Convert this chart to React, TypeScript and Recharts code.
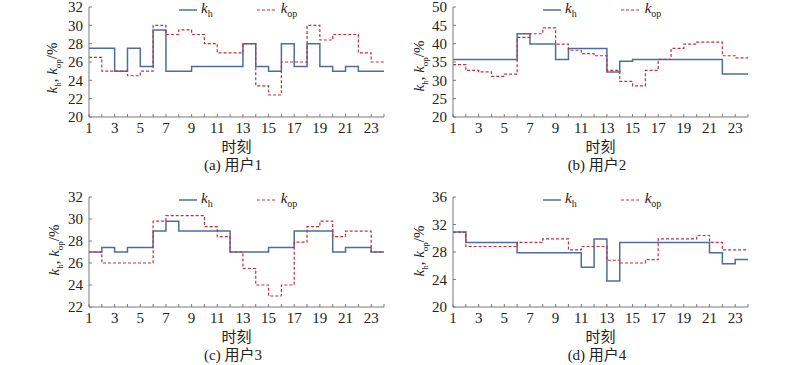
import React from 'react';
import { LineChart, Line, XAxis, YAxis, Legend } from 'recharts';

const hours = [1, 2, 3, 4, 5, 6, 7, 8, 9, 10, 11, 12, 13, 14, 15, 16, 17, 18, 19, 20, 21, 22, 23, 24];

// 用户1
const kh1 = [27.5, 27.5, 25, 27.5, 25.5, 29.5, 25, 25, 25.5, 25.5, 25.5, 25.5, 28, 25.5, 25, 28, 25.5, 28, 25.5, 25, 25.5, 25, 25, 25];
const kop1 = [26.5, 25, 25, 24.5, 25, 30, 29, 29.5, 29, 28, 27, 27, 28, 23.4, 22.4, 26, 26, 30, 28.4, 29, 29, 27, 26, 26];
const ticks1 = [20, 22, 24, 26, 28, 30, 32];

// 用户2
const kh2 = [35.7, 35.7, 35.7, 35.7, 35.7, 42.7, 39.9, 39.9, 35.7, 38.7, 38.7, 38.7, 32.3, 35.2, 35.7, 35.7, 35.7, 35.7, 35.7, 35.7, 35.7, 31.7, 31.7, 31.7];
const kop2 = [34.3, 32.7, 32.3, 31.1, 31.7, 41.7, 42.7, 44.3, 39.9, 38.2, 37.3, 36.7, 32.7, 29.7, 28.5, 32.7, 35.7, 38.7, 39.9, 40.4, 40.4, 36.7, 36.1, 36.1];
const ticks2 = [20, 25, 30, 35, 40, 45, 50];

// 用户3
const kh3 = [27, 27.4, 27, 27.4, 27.4, 28.9, 29.8, 28.9, 28.9, 28.9, 28.9, 27, 27, 27, 27.4, 27.4, 28.9, 28.9, 28.9, 27, 27.4, 27.4, 27, 27];
const kop3 = [27, 26, 26, 26, 26, 29.8, 30.3, 30.3, 30.3, 29.3, 28.4, 27, 25.5, 24, 23, 24, 27.9, 29.3, 29.8, 28.4, 28.9, 28.9, 27, 27];
const ticks3 = [22, 24, 26, 28, 30, 32];

// 用户4
const kh4 = [30.9, 29.4, 29.4, 29.4, 29.4, 27.9, 27.9, 27.9, 27.9, 27.9, 25.8, 29.9, 23.8, 29.4, 29.4, 29.4, 29.4, 29.4, 29.4, 29.4, 27.9, 26.3, 26.9, 26.9];
const kop4 = [30.9, 28.8, 28.8, 28.8, 28.8, 29.4, 29.4, 29.9, 29.9, 28.3, 28.8, 28.8, 26.8, 26.4, 26.4, 26.9, 29.9, 29.9, 29.9, 30.4, 29.4, 28.3, 28.3, 28.3];
const ticks4 = [20, 24, 28, 32, 36];

const SERIF = '"Liberation Serif", "Times New Roman", serif';
const CJK = '"Liberation Serif", "Noto Sans CJK SC", serif';
const BLUE = '#4f6c9f';
const RED = '#c4303a';
const AXIS = '#7a7a7a';
const INK = '#222';

const buildRows = (kh: number[], kop: number[]) =>
  hours.map((h, i) => ({ hour: h, kh: kh[i], kop: kop[i] }));

const LegendBox = () => (
  <div style={{ display: 'flex', alignItems: 'center', fontFamily: SERIF, fontSize: 15, color: INK }}>
    <svg width={20} height={6}><line x1={0} y1={3} x2={18} y2={3} stroke={BLUE} strokeWidth={1.5} /></svg>
    <span style={{ marginLeft: 2 }}><i>k</i><sub style={{ fontSize: 10 }}>h</sub></span>
    <svg width={22} height={6} style={{ marginLeft: 44 }}><line x1={0} y1={3} x2={20} y2={3} stroke={RED} strokeWidth={1.2} strokeDasharray="3 2" /></svg>
    <span style={{ marginLeft: 2 }}><i>k</i><sub style={{ fontSize: 10 }}>op</sub></span>
  </div>
);

interface PanelProps {
  left: number;
  top: number;
  kh: number[];
  kop: number[];
  yTicks: number[];
  caption: string;
  labelX: number;
  labelY: number;
}

const Panel: React.FC<PanelProps> = ({ left, top, kh, kop, yTicks, caption, labelX, labelY }) => {
  const data = buildRows(kh, kop);
  return (
    <>
      <div style={{ position: 'absolute', left, top }}>
        <LineChart width={400} height={140} data={data} margin={{ top: 7, right: 16, left: 0, bottom: 0 }}>
          <XAxis
            dataKey="hour"
            type="number"
            domain={[1, 24]}
            ticks={hours}
            interval={0}
            tickFormatter={(v: number) => (v % 2 === 1 ? String(v) : '')}
            height={23}
            stroke={AXIS}
            tickSize={-3}
            tickMargin={8}
            tick={{ fontFamily: SERIF, fontSize: 15, fill: INK }}
          />
          <YAxis
            domain={[yTicks[0], yTicks[yTicks.length - 1]]}
            ticks={yTicks}
            interval={0}
            width={89}
            stroke={AXIS}
            tickSize={-3}
            tickMargin={9}
            tick={{ fontFamily: SERIF, fontSize: 15, fill: INK }}
          />
          <Legend
            layout="horizontal"
            verticalAlign="middle"
            align="center"
            content={() => <LegendBox />}
            wrapperStyle={{ top: 0, left: 179, width: 'auto', height: 14 }}
          />
          <Line type="stepAfter" dataKey="kh" stroke={BLUE} strokeWidth={1.5} dot={false} isAnimationActive={false} />
          <Line type="stepAfter" dataKey="kop" stroke={RED} strokeWidth={1.2} strokeDasharray="3 2" dot={false} isAnimationActive={false} />
        </LineChart>
      </div>
      <div
        style={{
          position: 'absolute',
          left: labelX,
          top: labelY,
          transform: 'translate(-50%, -50%) rotate(-90deg)',
          whiteSpace: 'nowrap',
          fontFamily: SERIF,
          fontSize: 15,
          color: INK,
        }}
      >
        <i>k</i><sub style={{ fontSize: 9 }}>h</sub>, <i>k</i><sub style={{ fontSize: 9 }}>op</sub>/%
      </div>
      <div style={{ position: 'absolute', left: left + 89, top: top + 135, width: 295, textAlign: 'center', fontFamily: CJK, fontSize: 15, color: INK }}>
        时刻
      </div>
      <div style={{ position: 'absolute', left: left + 89, top: top + 153, width: 288, textAlign: 'center', fontFamily: CJK, fontSize: 15, color: INK }}>
        {caption}
      </div>
    </>
  );
};

export default function App() {
  return (
    <div style={{ position: 'absolute', left: 0, top: 0, width: 800, height: 365, background: '#fff', overflow: 'hidden' }}>
      <Panel left={0} top={0} kh={kh1} kop={kop1} yTicks={ticks1} caption="(a) 用户1" labelX={53} labelY={68} />
      <Panel left={364} top={0} kh={kh2} kop={kop2} yTicks={ticks2} caption="(b) 用户2" labelX={420} labelY={66} />
      <Panel left={0} top={190} kh={kh3} kop={kop3} yTicks={ticks3} caption="(c) 用户3" labelX={55} labelY={250} />
      <Panel left={364} top={190} kh={kh4} kop={kop4} yTicks={ticks4} caption="(d) 用户4" labelX={420} labelY={251} />
    </div>
  );
}
